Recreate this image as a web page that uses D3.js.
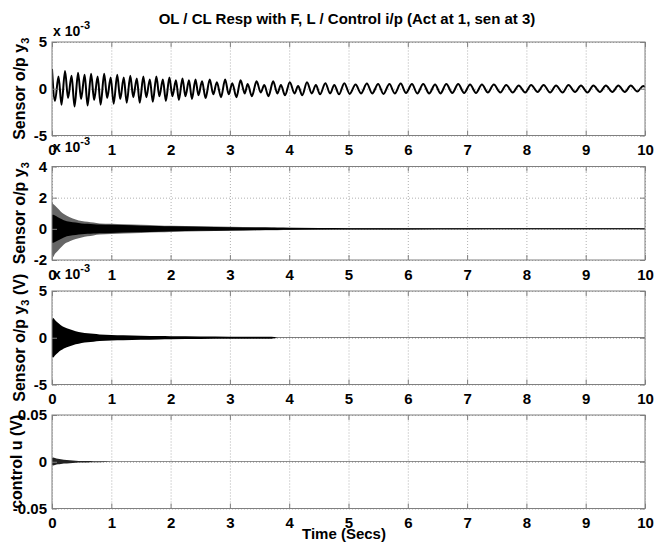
<!DOCTYPE html>
<html><head><meta charset="utf-8">
<script src="https://cdn.jsdelivr.net/npm/d3@7"></script>
<style>
body{margin:0;background:#fff;}
svg text{font-family:"Liberation Sans",Arial,sans-serif;font-weight:bold;fill:#000;}
</style></head><body>
<svg id="c" width="654" height="543"></svg>
<script>
// ---------------- data ----------------
const titleText = "OL / CL Resp with F, L / Control i/p (Act at 1, sen at 3)";
const xLabelText = "Time (Secs)";
const timeTicks = [0,1,2,3,4,5,6,7,8,9,10];

// Panel 1: open-loop sensor output (x 1e-3), read as successive extrema
const olTime = [0.00,0.05,0.11,0.16,0.22,0.27,0.33,0.38,0.44,0.49,0.55,0.60,0.66,0.71,0.77,0.82,0.88,0.93,0.99,1.04,1.10,1.15,1.21,1.26,1.32,1.37,1.43,1.48,1.54,1.59,1.65,1.70,1.76,1.81,1.87,1.92,1.98,2.03,2.09,2.14,2.20,2.25,2.31,2.36,2.42,2.47,2.53,
 2.59,2.66,2.72,2.78,2.85,2.92,2.98,3.04,3.11,3.18,3.25,3.30,3.37,3.45,3.52,3.58,3.65,3.73,3.80,3.86,3.93,4.01,4.09,4.15,4.22,4.30,4.38,4.45,4.52,4.61,4.69,4.76,4.84,4.93,
 5.02,5.12,5.21,5.31,5.40,5.50,5.59,5.69,5.78,5.88,5.97,6.07,6.16,6.26,6.36,6.46,6.55,6.65,6.75,6.85,6.95,7.05,7.15,7.25,7.35,7.45,
 7.56,7.66,7.77,7.87,7.98,8.08,8.19,8.29,8.40,8.50,8.61,8.71,8.82,8.92,9.03,9.13,9.24,9.34,9.45,9.55,9.66,9.76,9.87,9.97,10.0];
const olValue = [2.1,-1.3,1.3,-1.7,1.9,-1.0,1.4,-1.9,1.7,-1.1,1.5,-1.8,1.6,-1.2,1.3,-1.7,1.6,-1.0,1.2,-1.6,1.5,-1.1,1.2,-1.5,1.4,-0.9,1.1,-1.5,1.3,-0.9,1.0,-1.4,1.3,-0.8,1.0,-1.3,1.2,-0.8,0.9,-1.2,1.1,-0.8,0.9,-1.1,1.0,-0.7,0.8,
 -1.0,1.0,-0.6,0.7,-0.9,1.0,-0.6,0.6,-0.9,0.9,-0.5,0.5,-0.8,0.8,-0.4,0.4,-0.8,0.8,-0.5,0.4,-0.7,0.7,-0.5,0.3,-0.7,0.7,-0.5,0.4,-0.6,0.6,-0.5,0.4,-0.6,0.6,
 -0.55,0.45,-0.5,0.55,-0.5,0.5,-0.55,0.5,-0.5,0.55,-0.45,0.5,-0.5,0.5,-0.5,0.45,-0.5,0.5,-0.45,0.5,-0.45,0.45,-0.45,0.45,-0.4,0.45,
 -0.4,0.4,-0.4,0.35,-0.4,0.4,-0.35,0.4,-0.4,0.35,-0.4,0.4,-0.35,0.35,-0.4,0.35,-0.35,0.35,-0.35,0.35,-0.35,0.35,-0.3,0.3,0.2];

// Panels 2-4: envelopes of the dense closed-loop oscillations
const envTime = [0,0.02,0.05,0.1,0.15,0.2,0.3,0.4,0.5,0.6,0.7,0.8,1.0,1.2,1.5,1.8,2.0,2.5,3.0,3.5,3.7,3.8,4.0,4.5,5.0,6,7,8,9,10];
// Panel 2 (x 1e-3)
const clOuterUpper = [1.7,1.6,1.5,1.3,1.1,0.95,0.75,0.6,0.5,0.45,0.4,0.35,0.32,0.3,0.26,0.22,0.2,0.16,0.13,0.1,0.095,0.09,0.08,0.06,0.05,0.04,0.035,0.03,0.03,0.03];
const clOuterLower = [-1.8,-1.8,-1.6,-1.4,-1.2,-1.0,-0.8,-0.65,-0.55,-0.48,-0.42,-0.37,-0.33,-0.3,-0.26,-0.22,-0.2,-0.16,-0.13,-0.1,-0.095,-0.09,-0.08,-0.06,-0.05,-0.04,-0.035,-0.03,-0.03,-0.03];
const clCoreHalf = [0.9,0.9,0.85,0.75,0.65,0.55,0.45,0.4,0.35,0.32,0.3,0.28,0.26,0.24,0.2,0.18,0.16,0.13,0.1,0.08,0.075,0.07,0.06,0.05,0.04,0.035,0.03,0.03,0.03,0.03];
// Panel 3 (x 1e-3, volts)
const voltUpper = [1.9,2.1,1.9,1.6,1.35,1.15,0.9,0.7,0.55,0.48,0.42,0.36,0.3,0.27,0.22,0.18,0.16,0.14,0.12,0.11,0.1,0.04,0.04,0.035,0.03,0.03,0.03,0.03,0.03,0.03];
const voltLower = [-2.0,-2.1,-1.9,-1.6,-1.35,-1.15,-0.9,-0.7,-0.55,-0.48,-0.42,-0.36,-0.3,-0.27,-0.22,-0.18,-0.16,-0.14,-0.12,-0.11,-0.1,-0.04,-0.04,-0.035,-0.03,-0.03,-0.03,-0.03,-0.03,-0.03];
// Panel 4 (volts)
const ctrlUpper = [0.004,0.0045,0.004,0.0032,0.0026,0.0022,0.0016,0.0012,0.0009,0.0007,0.0006,0.0005,0.0004,0.0004,0.0004,0.0004,0.0004,0.0004,0.0004,0.0004,0.0004,0.0004,0.0004,0.0004,0.0004,0.0004,0.0004,0.0004,0.0004,0.0004];
const ctrlLower = [-0.0035,-0.004,-0.0035,-0.0028,-0.0023,-0.002,-0.0015,-0.0011,-0.0009,-0.0007,-0.0006,-0.0005,-0.0004,-0.0004,-0.0004,-0.0004,-0.0004,-0.0004,-0.0004,-0.0004,-0.0004,-0.0004,-0.0004,-0.0004,-0.0004,-0.0004,-0.0004,-0.0004,-0.0004,-0.0004];

const yDomains = [[-5,5],[-2,4],[-5,5],[-0.05,0.05]];
const yTickValues = [[-5,0,5],[-2,0,2,4],[-5,0,5],[-0.05,0,0.05]];
const yTickLabels = [["-5","0","5"],["-2","0","2","4"],["-5","0","5"],["-0.05","0","0.05"]];
const yLabelMain = ["Sensor o/p y","Sensor o/p y","Sensor o/p y","control u (V)"];
const yLabelSub = ["3","3","3",""];
const yLabelTail = ["",""," (V)",""];
const showExponent = [true,true,true,false];

// ---------------- layout ----------------
const L = 52, R = 645, H = 93.5;
const tops = [42, 166.5, 291, 415];
const expBase = [36, 152, 279];
const yLabelX = [25, 25, 25, 22];
const boxColor = "#808080";

const svg = d3.select("#c");
const x = d3.scaleLinear().domain([0,10]).range([L,R]);

svg.append("text").attr("x", 347).attr("y", 24).attr("text-anchor","middle")
  .style("font-size","15px").text(titleText);
svg.append("text").attr("x", 344).attr("y", 539).attr("text-anchor","middle")
  .style("font-size","15px").text(xLabelText);

tops.forEach((top, i) => {
  const y = d3.scaleLinear().domain(yDomains[i]).range([top+H, top]);
  const g = svg.append("g");
  const clipId = "clip"+i;
  svg.append("clipPath").attr("id", clipId).append("rect")
    .attr("x", L).attr("y", top).attr("width", R-L).attr("height", H);

  // grid
  const gx = g.append("g").attr("transform",`translate(0,${top+H})`)
    .call(d3.axisBottom(x).tickValues(timeTicks).tickSize(-H).tickFormat(""));
  const gy = g.append("g").attr("transform",`translate(${L},0)`)
    .call(d3.axisLeft(y).tickValues(yTickValues[i]).tickSize(-(R-L)).tickFormat(""));
  [gx, gy].forEach(a => {
    a.select(".domain").remove();
    a.selectAll("line").attr("stroke","#b0b0b0").attr("stroke-dasharray","1,2").attr("stroke-width",1);
  });

  // data
  const dg = g.append("g").attr("clip-path",`url(#${clipId})`);
  const area = d3.area().x(d=>x(d.t)).y0(d=>y(d.lo)).y1(d=>y(d.hi)).curve(d3.curveMonotoneX);
  if (i === 0) {
    const pts = olTime.map((t,k)=>[t, olValue[k]]);
    dg.append("path").datum(pts)
      .attr("d", d3.line().x(d=>x(d[0])).y(d=>y(d[1])).curve(d3.curveMonotoneX))
      .attr("fill","none").attr("stroke","#000").attr("stroke-width",2);
  } else if (i === 1) {
    dg.append("path").datum(envTime.map((t,k)=>({t, lo: clOuterLower[k], hi: clOuterUpper[k]})))
      .attr("d", area).attr("fill","#666");
    dg.append("path").datum(envTime.map((t,k)=>({t, lo: -clCoreHalf[k], hi: clCoreHalf[k]})))
      .attr("d", area).attr("fill","#000");
  } else if (i === 2) {
    dg.append("path").datum(envTime.map((t,k)=>({t, lo: voltLower[k], hi: voltUpper[k]})))
      .attr("d", area).attr("fill","#000");
  } else {
    dg.append("path").datum(envTime.map((t,k)=>({t, lo: ctrlLower[k], hi: ctrlUpper[k]})))
      .attr("d", area).attr("fill","#222");
  }

  // box
  g.append("rect").attr("x",L).attr("y",top).attr("width",R-L).attr("height",H)
    .attr("fill","none").attr("stroke",boxColor).attr("stroke-width",1);

  // ticks
  const tb = g.append("g").attr("transform",`translate(0,${top+H})`)
    .call(d3.axisBottom(x).tickValues(timeTicks).tickSize(-5).tickPadding(9).tickFormat(d3.format("d")));
  const tt = g.append("g").attr("transform",`translate(0,${top})`)
    .call(d3.axisTop(x).tickValues(timeTicks).tickSize(-5).tickFormat(""));
  const tl = g.append("g").attr("transform",`translate(${L},0)`)
    .call(d3.axisLeft(y).tickValues(yTickValues[i]).tickSize(-5).tickPadding(5)
      .tickFormat((d,k)=>yTickLabels[i][k]));
  const tr = g.append("g").attr("transform",`translate(${R},0)`)
    .call(d3.axisRight(y).tickValues(yTickValues[i]).tickSize(-5).tickFormat(""));
  [tb,tt,tl,tr].forEach(a=>{
    a.select(".domain").remove();
    a.selectAll("line").attr("stroke",boxColor);
    a.selectAll("text").style("font-size","15px").style("font-family",null).attr("fill","#000");
  });

  // exponent
  if (showExponent[i]) {
    const et = svg.append("text").attr("x", L+1).attr("y", expBase[i]).style("font-size","14px");
    et.append("tspan").text("x 10");
    et.append("tspan").attr("dy",-7).style("font-size","11px").text("-3");
  }

  // y label
  const cy = top + H/2;
  const yl = svg.append("text").attr("transform",`translate(${yLabelX[i]},${cy}) rotate(-90)`)
    .attr("text-anchor","middle").style("font-size","16px");
  yl.append("tspan").text(yLabelMain[i]);
  if (yLabelSub[i]) {
    yl.append("tspan").attr("dy",4).style("font-size","11px").text(yLabelSub[i]);
    if (yLabelTail[i]) yl.append("tspan").attr("dy",-4).text(yLabelTail[i]);
  }
});
</script>
</body></html>
